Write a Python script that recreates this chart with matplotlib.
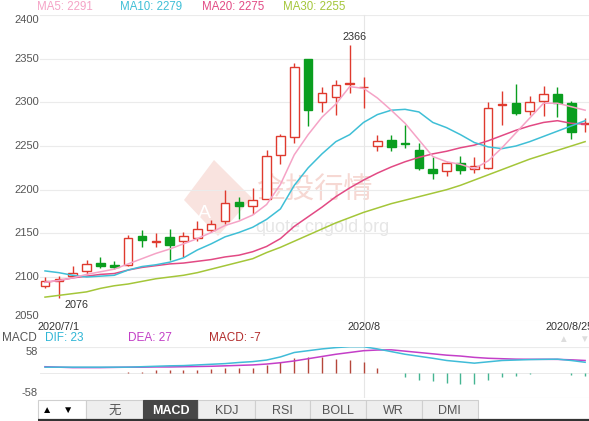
import matplotlib
matplotlib.use('Agg')
import matplotlib.pyplot as plt
from matplotlib.patches import Rectangle, Polygon

plt.rcParams['font.family'] = ['Liberation Sans', 'Noto Sans CJK SC', 'DejaVu Sans']

W, H = 589, 421

# daily OHLC, 2020/7/1 .. 2020/8/25
opens = [2090, 2095, 2101, 2107, 2116, 2114, 2114, 2147, 2140, 2146,
         2141, 2145, 2154, 2164, 2186, 2181, 2189, 2240, 2260, 2350,
         2300, 2306, 2321, 2317, 2250, 2257, 2254, 2246, 2224, 2221,
         2230, 2224, 2225, 2297, 2299, 2290, 2302, 2309, 2299, 2275]
closes = [2095, 2098, 2105, 2115, 2113, 2112, 2145, 2142, 2141, 2137,
          2147, 2155, 2161, 2185, 2181, 2188, 2238, 2262, 2340, 2291,
          2311, 2320, 2322, 2318, 2256, 2249, 2252, 2225, 2219, 2230,
          2223, 2227, 2293, 2298, 2288, 2300, 2309, 2299, 2266, 2276]
highs = [2100, 2101, 2113, 2119, 2123, 2118, 2148, 2154, 2150, 2155,
         2151, 2164, 2165, 2200, 2192, 2202, 2245, 2264, 2345, 2350,
         2317, 2326, 2366, 2329, 2263, 2263, 2274, 2253, 2237, 2232,
         2238, 2237, 2300, 2313, 2321, 2307, 2319, 2317, 2302, 2282]
lows = [2088, 2076, 2100, 2104, 2110, 2109, 2113, 2134, 2134, 2120,
        2123, 2141, 2151, 2161, 2166, 2172, 2189, 2229, 2254, 2273,
        2289, 2286, 2311, 2293, 2244, 2244, 2248, 2222, 2212, 2216,
        2218, 2219, 2224, 2274, 2286, 2286, 2284, 2283, 2258, 2266]

ma5 = [2094, 2096, 2099, 2103, 2106, 2109, 2115, 2121, 2127, 2132,
       2138, 2144, 2151, 2159, 2164, 2171, 2183, 2206, 2240, 2263,
       2283, 2298, 2318, 2316, 2305, 2291, 2276, 2257, 2238, 2232,
       2229, 2224, 2233, 2248, 2265, 2282, 2299, 2299, 2295, 2291]
ma10 = [2107, 2105, 2102, 2100, 2101, 2102, 2108, 2112, 2114, 2117,
        2122, 2131, 2138, 2146, 2151, 2157, 2166, 2178, 2205, 2225,
        2241, 2255, 2263, 2277, 2286, 2291, 2292, 2289, 2277, 2271,
        2263, 2254, 2249, 2247, 2250, 2255, 2261, 2267, 2273, 2279]
ma20 = [2094, 2096, 2099, 2101, 2103, 2104, 2108, 2111, 2113, 2115,
        2116, 2118, 2120, 2123, 2125, 2129, 2135, 2144, 2158, 2169,
        2180, 2192, 2202, 2211, 2219, 2226, 2232, 2237, 2241, 2244,
        2248, 2251, 2256, 2262, 2268, 2273, 2277, 2279, 2276, 2275]
ma30 = [2077, 2079, 2081, 2083, 2087, 2090, 2092, 2095, 2098, 2100,
        2102, 2105, 2109, 2113, 2117, 2121, 2128, 2134, 2141, 2148,
        2155, 2162, 2168, 2174, 2179, 2184, 2188, 2192, 2196, 2200,
        2205, 2211, 2217, 2223, 2229, 2235, 2240, 2245, 2250, 2255]

dif = [12, 12, 12, 12, 12, 12, 12, 13, 14, 15,
       15.5, 17, 18.5, 20, 22.5, 24.5, 28, 35, 45, 49,
       53, 56, 58, 58, 53, 47, 41, 36.5, 32, 27,
       24, 21, 24, 27, 28, 29, 29.5, 30, 27, 23]
dea = [13, 12, 11, 11, 11, 11.5, 12, 12, 12.5, 12.5,
       13, 13.5, 14, 15, 16, 17, 19, 22, 26, 31,
       36, 41, 45, 49, 50.5, 51, 48, 45, 42, 39,
       37, 34, 32, 31, 30, 29.7, 29.7, 29.5, 28.5, 27]
macd = [-1.5, -1.5, -1.5, -1.5, -1.5, -1.5, 1, 2, 5, 5,
        6, 6, 7, 10.5, 10.5, 11, 16.5, 24, 33, 34,
        34, 31, 28.5, 23, 11, -1, -9, -16.5, -20, -24,
        -26, -26, -16.5, -11, -7, -4, -1, -1, -5, -7]

date_labels = ['2020/7/1', '2020/8', '2020/8/25']
tabs = ['无', 'MACD', 'KDJ', 'RSI', 'BOLL', 'WR', 'DMI']

red = '#df3a2e'
green = '#0a9e1f'
c5, c10, c20, c30 = '#f5a3c6', '#3fbfd6', '#e24a84', '#a4c639'
xs = list(range(len(opens)))
xlim = (-0.361, 39.28)


def fx(x):
    return x / W


def fy(y):
    return 1 - y / H


fig = plt.figure(figsize=(W / 100, H / 100), dpi=100)
fig.patch.set_facecolor('white')

# watermark behind the chart
fig.patches.append(Polygon([(fx(214), fy(160)), (fx(252), fy(198)), (fx(218), fy(236)), (fx(184), fy(200))],
                           closed=True, transform=fig.transFigure, facecolor='#f9e3df', edgecolor='none', zorder=-2))
fig.text(fx(204), fy(214), 'A', fontsize=14, color='white', ha='center', va='center', zorder=-1)
fig.text(fx(256), fy(190), '金投行情', fontsize=21, color='#f6d8d3', ha='left', va='center', zorder=-1)
fig.text(fx(255), fy(227), 'quote.cngold.org', fontsize=13, color='#e6e6e6', ha='left', va='center', zorder=-1)

# main candle chart
ax = fig.add_axes([fx(40), fy(320.7), 549 / W, (320.7 - 15) / H])
ax.set_facecolor('none')
ax.set_xlim(*xlim)
ax.set_ylim(2050, 2400)
for v in range(2050, 2401, 50):
    ax.axhline(v, color='#ebebeb', lw=0.8, zorder=0)
    va = 'bottom' if v == 2050 else ('top' if v == 2400 else 'center')
    ax.text(-0.002, v, str(v), transform=ax.get_yaxis_transform(), ha='right', va=va,
            fontsize=8, color='#555555')
ax.axvline(23, ymin=-0.085, ymax=1, color='#e6e6e6', lw=0.8, zorder=0, clip_on=False)

for i in xs:
    up = closes[i] >= opens[i]
    col = red if up else green
    ax.vlines(i, lows[i], highs[i], color=col, lw=1, zorder=2)
    lo = min(opens[i], closes[i])
    ax.bar(i, abs(closes[i] - opens[i]), bottom=lo, width=0.62,
           facecolor='white' if up else green, edgecolor=col, lw=1, zorder=3)

ax.plot(xs, ma30, color=c30, lw=1.1, zorder=4)
ax.plot(xs, ma20, color=c20, lw=1.1, zorder=4)
ax.plot(xs, ma10, color=c10, lw=1.1, zorder=4)
ax.plot(xs, ma5, color=c5, lw=1.1, zorder=4)

hi_i = highs.index(max(highs))
lo_i = lows.index(min(lows))
ax.annotate(str(max(highs)), xy=(hi_i, highs[hi_i]), xytext=(5, 8), textcoords='offset pixels',
            ha='center', va='center', fontsize=7.8, color='#333333')
ax.annotate(str(min(lows)), xy=(lo_i, lows[lo_i]), xytext=(6, -7), textcoords='offset pixels',
            ha='left', va='center', fontsize=7.8, color='#333333')
ax.set_xticks([])
ax.set_yticks([])
for s in ax.spines.values():
    s.set_visible(False)

# MA legend row
for label, val, col, x0 in [('MA5', ma5[-1], c5, 37.3), ('MA10', ma10[-1], c10, 119.5),
                            ('MA20', ma20[-1], c20, 201.7), ('MA30', ma30[-1], c30, 283.3)]:
    fig.text(fx(x0), fy(7.3), f'{label}: {val}', fontsize=8.3, color=col, ha='left', va='center')

# date labels
fig.text(fx(37.6), fy(327.5), date_labels[0], fontsize=7.8, color='#333333', ha='left', va='center')
fig.text(fx(363.6), fy(327.5), date_labels[1], fontsize=7.8, color='#333333', ha='center', va='center')
fig.text(fx(545.5), fy(327.5), date_labels[2], fontsize=7.8, color='#333333', ha='left', va='center')

# MACD panel
ax2 = fig.add_axes([fx(40), fy(398.3), 549 / W, (398.3 - 346.7) / H])
ax2.set_facecolor('none')
ax2.set_xlim(*xlim)
ax2.set_ylim(-58, 58)
ax2.axhline(58, color='#ebebeb', lw=0.8, zorder=0)
ax2.axhline(-58, color='#ebebeb', lw=0.8, zorder=0)
ax2.axhline(0, color='#e6e6e6', lw=0.6, zorder=0)
ax2.axvline(23, color='#e6e6e6', lw=0.8, zorder=0)
ax2.text(-0.0044, 58, '58', transform=ax2.get_yaxis_transform(), ha='right', va='top',
         fontsize=8, color='#555555')
ax2.text(-0.0044, -58, '-58', transform=ax2.get_yaxis_transform(), ha='right', va='bottom',
         fontsize=8, color='#555555')
bar_cols = ['#b5473b' if m > 0 else '#45b592' for m in macd]
ax2.vlines(xs, 0, macd, colors=bar_cols, lw=1, zorder=2)
ax2.plot(xs, dea, color='#c43fc8', lw=1.1, zorder=3)
ax2.plot(xs, dif, color='#40bcd8', lw=1.1, zorder=3)
ax2.set_xticks([])
ax2.set_yticks([])
for s in ax2.spines.values():
    s.set_visible(False)

# MACD header
fig.text(fx(2), fy(337.7), 'MACD', fontsize=8.5, color='#555555', ha='left', va='center')
fig.text(fx(45), fy(337.7), f'DIF: {dif[-1]}', fontsize=8.5, color='#2fb6d6', ha='left', va='center')
fig.text(fx(127.7), fy(337.7), f'DEA: {dea[-1]}', fontsize=8.5, color='#c23ec6', ha='left', va='center')
fig.text(fx(209), fy(337.7), f'MACD: {macd[-1]}', fontsize=8.5, color='#b22b2b', ha='left', va='center')
fig.text(fx(563), fy(339), '▲', fontsize=7, color='#dddddd', ha='center', va='center')
fig.text(fx(584), fy(339), '▼', fontsize=7, color='#dddddd', ha='center', va='center')

# indicator tab bar
tb = fig.add_axes([0, 0, 1, 23 / H])
tb.set_xlim(0, W)
tb.set_ylim(421, 398)
tb.axis('off')
tb.add_patch(Rectangle((37.6, 400), 48.8, 20, facecolor='white', edgecolor='#d0d0d0', lw=0.8))
tb.text(47, 410, '▲', fontsize=7.5, color='black', ha='center', va='center')
tb.text(67.6, 410, '▼', fontsize=7.5, color='black', ha='center', va='center')
edges = [86.4, 142.7, 198.3, 254.7, 310.3, 365.5, 421.5, 478]
for k, name in enumerate(tabs):
    active = name == 'MACD'
    tb.add_patch(Rectangle((edges[k], 400), edges[k + 1] - edges[k], 20,
                           facecolor='#464646' if active else '#eeeeee',
                           edgecolor='#464646' if active else '#cfcfcf', lw=0.8))
    tb.text((edges[k] + edges[k + 1]) / 2, 410.5, name, fontsize=9,
            color='white' if active else '#555555', fontweight='bold' if active else 'normal',
            ha='center', va='center')
tb.plot([37.6, W], [419.8, 419.8], color='#333333', lw=1.6, solid_capstyle='butt')

fig.savefig('out.png', dpi=100, facecolor='white')
